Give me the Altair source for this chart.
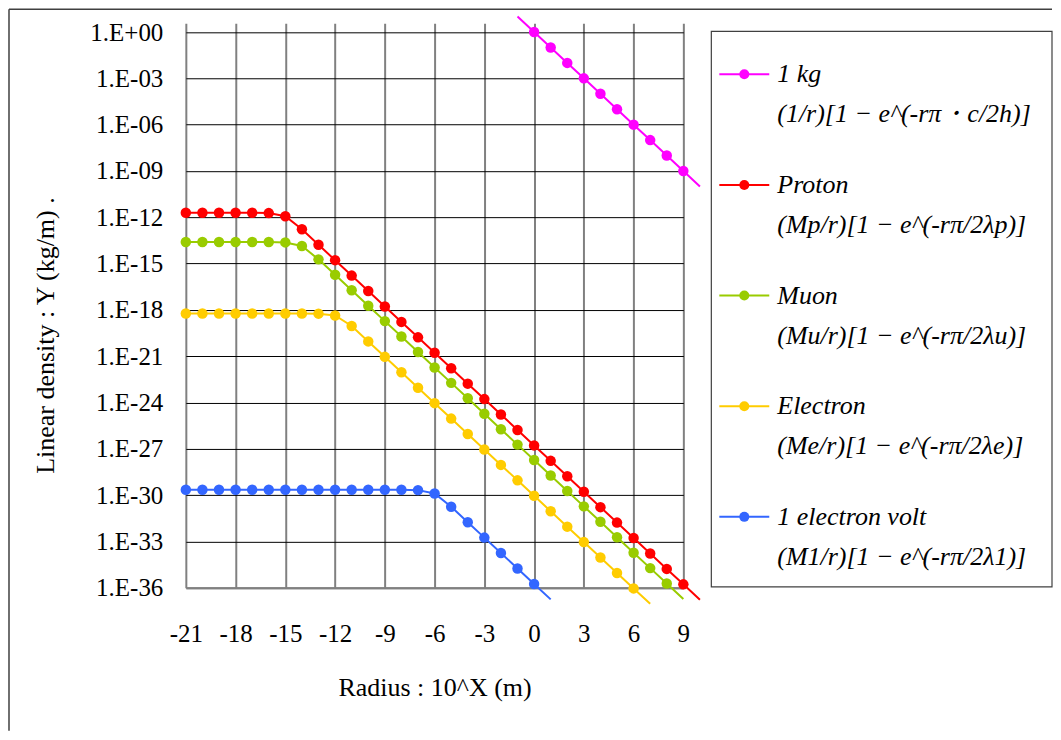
import altair as alt
import pandas as pd

# ---------------- data ----------------
series_names = ["1 kg", "Proton", "Muon", "Electron", "1 electron volt"]
formulas = [
    "(1/r)[1 − e^(-rπ・c/2h)]",
    "(Mp/r)[1 − e^(-rπ/2λp)]",
    "(Mu/r)[1 − e^(-rπ/2λu)]",
    "(Me/r)[1 − e^(-rπ/2λe)]",
    "(M1/r)[1 − e^(-rπ/2λ1)]",
]
colors = ["#FF00FF", "#FF0000", "#99CC00", "#FFCC00", "#3366FF"]

x_ticks = [-21, -18, -15, -12, -9, -6, -3, 0, 3, 6, 9]
y_ticks = [1e0, 1e-3, 1e-6, 1e-9, 1e-12, 1e-15, 1e-18, 1e-21, 1e-24,
           1e-27, 1e-30, 1e-33, 1e-36]

x_1kg = [-1, 0, 1, 2, 3, 4, 5, 6, 7, 8, 9, 10]
y_1kg = [1e1, 1e0, 1e-1, 1e-2, 1e-3, 1e-4, 1e-5, 1e-6, 1e-7, 1e-8, 1e-9, 1e-10]

x_proton = [-21, -20, -19, -18, -17, -16, -15, -14, -13, -12, -11, -10, -9, -8,
            -7, -6, -5, -4, -3, -2, -1, 0, 1, 2, 3, 4, 5, 6, 7, 8, 9, 10]
y_proton = [1.99e-12, 1.99e-12, 1.99e-12, 1.99e-12, 1.98e-12, 1.87e-12, 1.16e-12,
            1.67e-13, 1.67e-14, 1.67e-15, 1.67e-16, 1.67e-17, 1.67e-18, 1.67e-19,
            1.67e-20, 1.67e-21, 1.67e-22, 1.67e-23, 1.67e-24, 1.67e-25, 1.67e-26,
            1.67e-27, 1.67e-28, 1.67e-29, 1.67e-30, 1.67e-31, 1.67e-32, 1.67e-33,
            1.67e-34, 1.67e-35, 1.67e-36, 1.67e-37]

x_muon = [-21, -20, -19, -18, -17, -16, -15, -14, -13, -12, -11, -10, -9, -8,
          -7, -6, -5, -4, -3, -2, -1, 0, 1, 2, 3, 4, 5, 6, 7, 8, 9]
y_muon = [2.52e-14, 2.52e-14, 2.52e-14, 2.52e-14, 2.52e-14, 2.50e-14, 2.36e-14,
          1.39e-14, 1.88e-15, 1.88e-16, 1.88e-17, 1.88e-18, 1.88e-19, 1.88e-20,
          1.88e-21, 1.88e-22, 1.88e-23, 1.88e-24, 1.88e-25, 1.88e-26, 1.88e-27,
          1.88e-28, 1.88e-29, 1.88e-30, 1.88e-31, 1.88e-32, 1.88e-33, 1.88e-34,
          1.88e-35, 1.88e-36, 1.88e-37]

x_electron = [-21, -20, -19, -18, -17, -16, -15, -14, -13, -12, -11, -10, -9, -8,
              -7, -6, -5, -4, -3, -2, -1, 0, 1, 2, 3, 4, 5, 6, 7]
y_electron = [5.90e-19, 5.90e-19, 5.90e-19, 5.90e-19, 5.90e-19, 5.90e-19, 5.90e-19,
              5.88e-19, 5.71e-19, 4.34e-19, 9.10e-20, 9.11e-21, 9.11e-22, 9.11e-23,
              9.11e-24, 9.11e-25, 9.11e-26, 9.11e-27, 9.11e-28, 9.11e-29, 9.11e-30,
              9.11e-31, 9.11e-32, 9.11e-33, 9.11e-34, 9.11e-35, 9.11e-36, 9.11e-37,
              9.11e-38]

x_ev = [-21, -20, -19, -18, -17, -16, -15, -14, -13, -12, -11, -10, -9, -8,
        -7, -6, -5, -4, -3, -2, -1, 0, 1]
y_ev = [2.26e-30, 2.26e-30, 2.26e-30, 2.26e-30, 2.26e-30, 2.26e-30, 2.26e-30,
        2.26e-30, 2.26e-30, 2.26e-30, 2.26e-30, 2.26e-30, 2.26e-30, 2.24e-30,
        2.12e-30, 1.28e-30, 1.78e-31, 1.78e-32, 1.78e-33, 1.78e-34, 1.78e-35,
        1.78e-36, 1.78e-37]

# ---------------- tables ----------------
rows = []
for name, xs, ys in zip(series_names,
                        [x_1kg, x_proton, x_muon, x_electron, x_ev],
                        [y_1kg, y_proton, y_muon, y_electron, y_ev]):
    for xv, yv in zip(xs, ys):
        rows.append({"name": name, "x": xv, "y": yv})
df = pd.DataFrame(rows)

legend_df = pd.DataFrame({"name": series_names, "formula": formulas})

FONT = "Liberation Serif"
FS = 25
TFS = 26
LFS = 26

color_scale = alt.Scale(domain=series_names, range=colors)
x_scale = alt.Scale(domain=[-21, 9], nice=False, zero=False)
y_scale = alt.Scale(type="log", domain=[1e-36, 3.66], nice=False)

y_label_expr = ("'1.E' + (round(log(datum.value)/LN10) >= 0 ? '+' : '-') + "
                "(abs(round(log(datum.value)/LN10)) < 10 ? '0' : '') + "
                "abs(round(log(datum.value)/LN10))")
x_label_expr = "(datum.value < 0 ? '-' : '') + abs(datum.value)"

x_enc = alt.X("x:Q", scale=x_scale,
              axis=alt.Axis(values=x_ticks, labelExpr=x_label_expr,
                            title="Radius : 10^X (m)",
                            grid=True, gridColor="#808080", gridWidth=2,
                            domain=True, domainColor="#808080", domainWidth=2,
                            ticks=False, tickSize=0, labelPadding=46,
                            labelBaseline="middle", labelFont=FONT, labelFontSize=FS,
                            labelColor="black", labelOverlap=False, labelFlush=False,
                            labelAlign="center",
                            titleFont=FONT, titleFontSize=TFS, titleFontWeight="normal",
                            titleColor="black", titleY=100, titleBaseline="middle"))
y_enc = alt.Y("y:Q", scale=y_scale,
              axis=alt.Axis(values=y_ticks, labelExpr=y_label_expr,
                            title="Linear density : Y (kg/m) .",
                            grid=True,
                            gridColor={"condition": {"test": "datum.value < 1e-35",
                                                     "value": "#808080"},
                                       "value": "black"},
                            gridWidth={"condition": {"test": "datum.value < 1e-35",
                                                     "value": 2},
                                       "value": 1},
                            domain=False, ticks=False, tickSize=0, labelPadding=23,
                            labelFont=FONT, labelFontSize=FS, labelColor="black",
                            labelOverlap=False, labelBound=False, labelFlush=False,
                            titleFont=FONT, titleFontSize=TFS, titleFontWeight="normal",
                            titleColor="black", titleAngle=270, titleX=-140, titleY=312,
                            titleAlign="center", titleBaseline="middle"))

base = alt.Chart(df)
lines = base.mark_line(strokeWidth=2).encode(
    x=x_enc, y=y_enc,
    color=alt.Color("name:N", scale=color_scale, legend=None),
    detail="name:N", order="x:Q",
)
points = base.mark_circle(size=110, opacity=1).transform_filter(
    "datum.x <= 9 && datum.y >= 5e-37 && datum.y <= 1.5"
).encode(
    x="x:Q", y="y:Q",
    color=alt.Color("name:N", scale=color_scale, legend=None),
)
main = alt.layer(lines, points)

# ---------------- legend (drawn with its own point scale) ----------------
ly = alt.Y("name:N", scale=alt.Scale(type="point", domain=series_names,
                                      range=[51, 494], padding=0), axis=None)
lbase = alt.Chart(legend_df)
leg_box = alt.Chart(alt.Data(values=[{}])).mark_rect(
    fill="white", stroke="#404040", strokeWidth=1.2
).encode(x=alt.value(526), x2=alt.value(867), y=alt.value(8), y2=alt.value(564))
leg_line = lbase.mark_rule(strokeWidth=2).encode(
    x=alt.value(534), x2=alt.value(584), y=ly,
    color=alt.Color("name:N", scale=color_scale, legend=None))
leg_pt = lbase.mark_circle(size=100, opacity=1).encode(
    x=alt.value(559), y=ly,
    color=alt.Color("name:N", scale=color_scale, legend=None))
leg_name = lbase.mark_text(align="left", baseline="middle", font=FONT, fontSize=LFS,
                           fontStyle="italic", color="black").encode(
    x=alt.value(592), y=ly, text="name:N")
leg_formula = lbase.mark_text(align="left", baseline="middle", font=FONT, fontSize=LFS,
                              fontStyle="italic", color="black", dy=40).encode(
    x=alt.value(592), y=ly, text="formula:N")
legend = alt.layer(leg_box, leg_line, leg_pt, leg_name, leg_formula)

# ---------------- outer frame (left and top edges) ----------------
frame_left = alt.Chart(alt.Data(values=[{}])).mark_rule(
    color="#404040", strokeWidth=1.5
).encode(x=alt.value(-177), y=alt.value(-14), y2=alt.value(708))
frame_top = alt.Chart(alt.Data(values=[{}])).mark_rule(
    color="#404040", strokeWidth=1.5
).encode(x=alt.value(-177), x2=alt.value(867), y=alt.value(-14))

chart = alt.layer(main, legend, frame_left, frame_top).resolve_scale(
    y="independent", x="independent"
).properties(
    width=498, height=565, padding=0, background="white"
).configure(font=FONT).configure_view(stroke=None)

chart.save("out.html", embed_options={"renderer": "svg", "actions": False})
